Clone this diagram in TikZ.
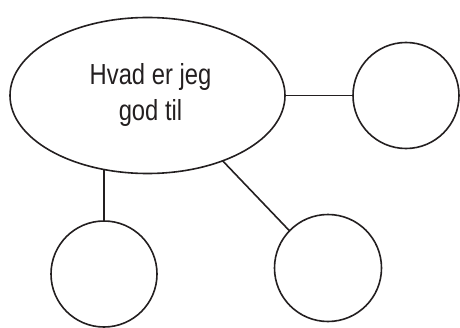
\documentclass[tikz,border=0pt]{standalone}
\usepackage{fontspec}
\usepackage{tikz}
\usetikzlibrary{shapes.geometric}
\newfontfamily\narrowfont[FakeStretch=0.82]{Liberation Sans}
\definecolor{inkline}{HTML}{231F20}

\begin{document}
\begin{tikzpicture}[x=1pt, y=1pt,
  every node/.style = {draw=inkline, line width=1.6pt, inner sep=0pt, outer sep=0pt},
  bubble/.style = {ellipse, minimum width=275pt, minimum height=156pt,
    align=center, font=\narrowfont\fontsize{29}{36}\selectfont, text=inkline},
  ring/.style = {circle, minimum size=106pt}]
  \useasboundingbox (0,0) rectangle (460,327);
  \node[bubble] (topic) at (147.5,231.5) {\hspace*{6pt}Hvad er jeg\\\hspace*{6pt}god til};
  \node[ring] (right) at (406,231.5) {};
  \node[ring] (left) at (104,53) {};
  \node[ring, minimum size=107pt] (middle) at (328,59) {};
  % connectors
  \draw[inkline, line width=1.6pt] (topic) -- (right);
  \draw[inkline, line width=1.6pt] (left.north) -- (left.north |- topic.239.5);
  \draw[inkline, line width=1.6pt] (topic.319) -- (middle.136);
\end{tikzpicture}
\end{document}
